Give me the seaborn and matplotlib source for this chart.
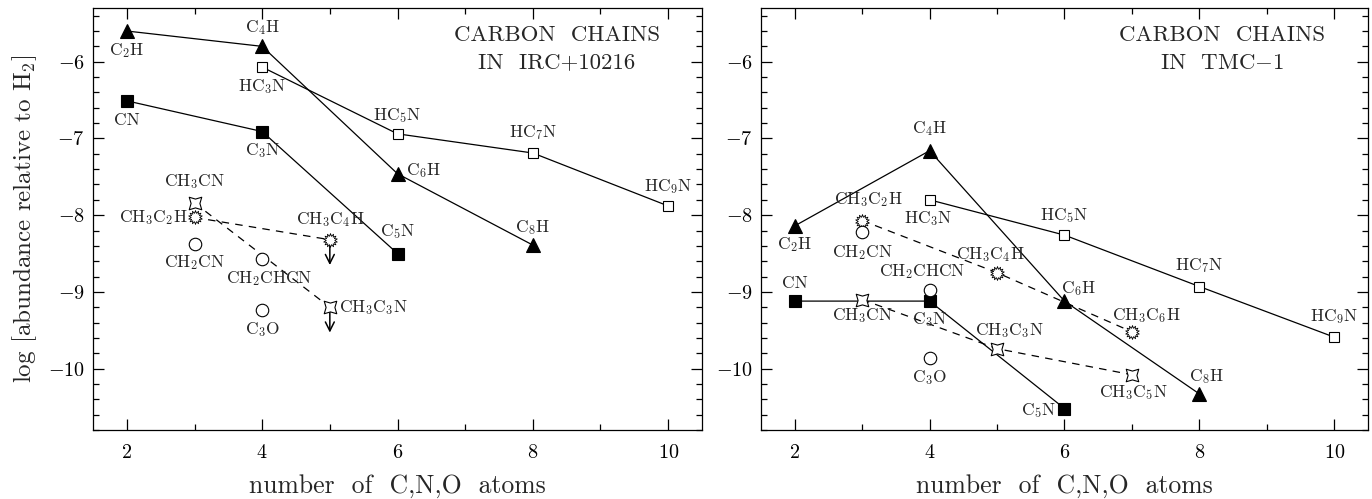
import matplotlib
matplotlib.use('Agg')
import matplotlib.pyplot as plt
import seaborn as sns
from matplotlib.path import Path
from matplotlib.transforms import Affine2D
from matplotlib.ticker import MultipleLocator

# ---- data: log abundance relative to H2 vs number of C,N,O atoms ----
# IRC+10216
irc_cch_n = [2, 4, 6, 8]
irc_cch = [-5.60, -5.80, -7.46, -8.39]
irc_cch_lab = ['C$_2$H', 'C$_4$H', 'C$_6$H', 'C$_8$H']

irc_hcn_n = [4, 6, 8, 10]
irc_hcn = [-6.07, -6.94, -7.19, -7.88]
irc_hcn_lab = ['HC$_3$N', 'HC$_5$N', 'HC$_7$N', 'HC$_9$N']

irc_cn_n = [2, 4, 6]
irc_cn = [-6.51, -6.91, -8.50]
irc_cn_lab = ['CN', 'C$_3$N', 'C$_5$N']

irc_ch3cn_n = [3, 5]
irc_ch3cn = [-7.84, -9.20]
irc_ch3cn_lab = ['CH$_3$CN', 'CH$_3$C$_3$N']

irc_ch3cch_n = [3, 5]
irc_ch3cch = [-8.03, -8.32]
irc_ch3cch_lab = ['CH$_3$C$_2$H', 'CH$_3$C$_4$H']

irc_oth_n = [3, 4, 4]
irc_oth = [-8.37, -8.57, -9.23]
irc_oth_lab = ['CH$_2$CN', 'CH$_2$CHCN', 'C$_3$O']

irc_uplim = ['CH$_3$C$_4$H', 'CH$_3$C$_3$N']

# TMC-1
tmc_cch_n = [2, 4, 6, 8]
tmc_cch = [-8.14, -7.16, -9.12, -10.33]
tmc_cch_lab = ['C$_2$H', 'C$_4$H', 'C$_6$H', 'C$_8$H']

tmc_hcn_n = [4, 6, 8, 10]
tmc_hcn = [-7.80, -8.26, -8.93, -9.59]
tmc_hcn_lab = ['HC$_3$N', 'HC$_5$N', 'HC$_7$N', 'HC$_9$N']

tmc_cn_n = [2, 4, 6]
tmc_cn = [-9.12, -9.12, -10.52]
tmc_cn_lab = ['CN', 'C$_3$N', 'C$_5$N']

tmc_ch3cn_n = [3, 5, 7]
tmc_ch3cn = [-9.10, -9.74, -10.08]
tmc_ch3cn_lab = ['CH$_3$CN', 'CH$_3$C$_3$N', 'CH$_3$C$_5$N']

tmc_ch3cch_n = [3, 5, 7]
tmc_ch3cch = [-8.07, -8.75, -9.52]
tmc_ch3cch_lab = ['CH$_3$C$_2$H', 'CH$_3$C$_4$H', 'CH$_3$C$_6$H']

tmc_oth_n = [3, 4, 4]
tmc_oth = [-8.22, -8.97, -9.86]
tmc_oth_lab = ['CH$_2$CN', 'CH$_2$CHCN', 'C$_3$O']

# label offsets in pixels (dx, dy, ha)
irc_off = {
    'C$_2$H': (0, -20, 'center'), 'C$_4$H': (0, 19, 'center'),
    'C$_6$H': (8, 3, 'left'), 'C$_8$H': (0, 18, 'center'),
    'HC$_3$N': (0, -19, 'center'), 'HC$_5$N': (0, 18, 'center'),
    'HC$_7$N': (0, 20, 'center'), 'HC$_9$N': (0, 19, 'center'),
    'CN': (0, -19, 'center'), 'C$_3$N': (0, -19, 'center'),
    'C$_5$N': (0, 22, 'center'), 'CH$_3$CN': (0, 21, 'center'),
    'CH$_3$C$_2$H': (-7, 0, 'right'), 'CH$_3$C$_4$H': (0, 20, 'center'),
    'CH$_3$C$_3$N': (9, 0, 'left'), 'CH$_2$CN': (0, -19, 'center'),
    'CH$_2$CHCN': (7, -20, 'center'), 'C$_3$O': (0, -20, 'center'),
}
tmc_off = {
    'C$_2$H': (0, -19, 'center'), 'C$_4$H': (0, 22, 'center'),
    'C$_6$H': (14, 13, 'center'), 'C$_8$H': (7, 17, 'center'),
    'HC$_3$N': (-2, -19, 'center'), 'HC$_5$N': (0, 20, 'center'),
    'HC$_7$N': (0, 21, 'center'), 'HC$_9$N': (0, 21, 'center'),
    'CN': (0, 18, 'center'), 'C$_3$N': (0, -18, 'center'),
    'C$_5$N': (-8, -2, 'right'), 'CH$_3$CN': (0, -16, 'center'),
    'CH$_3$C$_3$N': (12, 18, 'center'), 'CH$_3$C$_5$N': (1, -18, 'center'),
    'CH$_3$C$_2$H': (6, 21, 'center'), 'CH$_3$C$_4$H': (-7, 18, 'center'),
    'CH$_3$C$_6$H': (14, 16, 'center'), 'CH$_2$CN': (0, -20, 'center'),
    'CH$_2$CHCN': (-8, 18, 'center'), 'C$_3$O': (0, -20, 'center'),
}

# ---- style ----
sns.set_style('ticks')
plt.rcParams['font.family'] = ['cmr10', 'DejaVu Serif']
plt.rcParams['mathtext.fontset'] = 'cm'
plt.rcParams['axes.formatter.use_mathtext'] = True

star4 = Affine2D().rotate_deg(45).transform_path(Path.unit_regular_star(4, 0.5))
burst = Path.unit_regular_star(14, 0.62)
dash = (0, (6, 5))


def draw(ax, xs, ys, labels, offs, marker, ms, filled=True, ls='-', line=True, mew=0.8):
    if line:
        sns.lineplot(x=xs, y=ys, ax=ax, color='black', lw=0.9, linestyle=ls,
                     sort=False, estimator=None, zorder=2)
    sns.lineplot(x=xs, y=ys, ax=ax, color='black', lw=0, marker=marker,
                 markersize=ms, mfc='black' if filled else 'white', mec='black',
                 mew=mew, sort=False, estimator=None, zorder=3)
    for x, y, lab in zip(xs, ys, labels):
        dx, dy, ha = offs[lab]
        ax.annotate(lab, (x, y), xytext=(dx, dy), textcoords='offset pixels',
                    ha=ha, va='center', fontsize=12.5)


fig = plt.figure(figsize=(13.72, 4.99), dpi=100)
ax1 = fig.add_axes([93 / 1372, 1 - 430 / 499, 609 / 1372, 422 / 499])
ax2 = fig.add_axes([761 / 1372, 1 - 430 / 499, 607 / 1372, 422 / 499])

# IRC+10216
draw(ax1, irc_cch_n, irc_cch, irc_cch_lab, irc_off, '^', 10)
draw(ax1, irc_hcn_n, irc_hcn, irc_hcn_lab, irc_off, 's', 7.5, filled=False)
draw(ax1, irc_cn_n, irc_cn, irc_cn_lab, irc_off, 's', 8)
draw(ax1, irc_ch3cn_n, irc_ch3cn, irc_ch3cn_lab, irc_off, star4, 9, filled=False, ls=dash)
draw(ax1, irc_ch3cch_n, irc_ch3cch, irc_ch3cch_lab, irc_off, burst, 10, filled=False, ls=dash, mew=0.6)
draw(ax1, irc_oth_n, irc_oth, irc_oth_lab, irc_off, 'o', 9, filled=False, line=False)
for xs, ys, labs in [(irc_ch3cn_n, irc_ch3cn, irc_ch3cn_lab), (irc_ch3cch_n, irc_ch3cch, irc_ch3cch_lab)]:
    for x, y, lab in zip(xs, ys, labs):
        if lab in irc_uplim:
            ax1.annotate('', xy=(x, y - 0.33), xytext=(x, y),
                         arrowprops=dict(arrowstyle='->', lw=1.1, color='black',
                                         shrinkA=0, shrinkB=0, mutation_scale=16),
                         zorder=1)

# TMC-1
draw(ax2, tmc_cch_n, tmc_cch, tmc_cch_lab, tmc_off, '^', 10)
draw(ax2, tmc_hcn_n, tmc_hcn, tmc_hcn_lab, tmc_off, 's', 7.5, filled=False)
draw(ax2, tmc_cn_n, tmc_cn, tmc_cn_lab, tmc_off, 's', 8)
draw(ax2, tmc_ch3cn_n, tmc_ch3cn, tmc_ch3cn_lab, tmc_off, star4, 9, filled=False, ls=dash)
draw(ax2, tmc_ch3cch_n, tmc_ch3cch, tmc_ch3cch_lab, tmc_off, burst, 10, filled=False, ls=dash, mew=0.6)
draw(ax2, tmc_oth_n, tmc_oth, tmc_oth_lab, tmc_off, 'o', 9, filled=False, line=False)

for ax in (ax1, ax2):
    ax.set_xlim(1.5, 10.5)
    ax.set_ylim(-10.8, -5.3)
    ax.xaxis.set_major_locator(MultipleLocator(2))
    ax.xaxis.set_minor_locator(MultipleLocator(1))
    ax.yaxis.set_major_locator(MultipleLocator(1))
    ax.yaxis.set_minor_locator(MultipleLocator(0.2))
    ax.tick_params(which='both', direction='in', top=True, right=True,
                   colors='black', width=0.9, labelsize=14.5)
    ax.tick_params(axis='x', which='major', length=8, pad=10)
    ax.tick_params(axis='y', which='major', length=8, pad=6)
    ax.tick_params(which='minor', length=4)
    for s in ax.spines.values():
        s.set_linewidth(0.9)
        s.set_color('black')
    ax.set_xlabel('number  of  C,N,O  atoms', fontsize=18.5, labelpad=9)
    ax.set_ylabel('')

ax1.set_ylabel('log [abundance relative to H$_2$]', fontsize=18, labelpad=6)
ax1.text(0.762, 0.936, 'CARBON  CHAINS', transform=ax1.transAxes, ha='center',
         va='center', fontsize=16.5)
ax1.text(0.762, 0.870, 'IN  IRC+10216', transform=ax1.transAxes, ha='center',
         va='center', fontsize=16.5)
ax2.text(0.759, 0.936, 'CARBON  CHAINS', transform=ax2.transAxes, ha='center',
         va='center', fontsize=16.5)
ax2.text(0.759, 0.870, 'IN  TMC$-$1', transform=ax2.transAxes, ha='center',
         va='center', fontsize=16.5)

fig.savefig('out.png', dpi=100)
